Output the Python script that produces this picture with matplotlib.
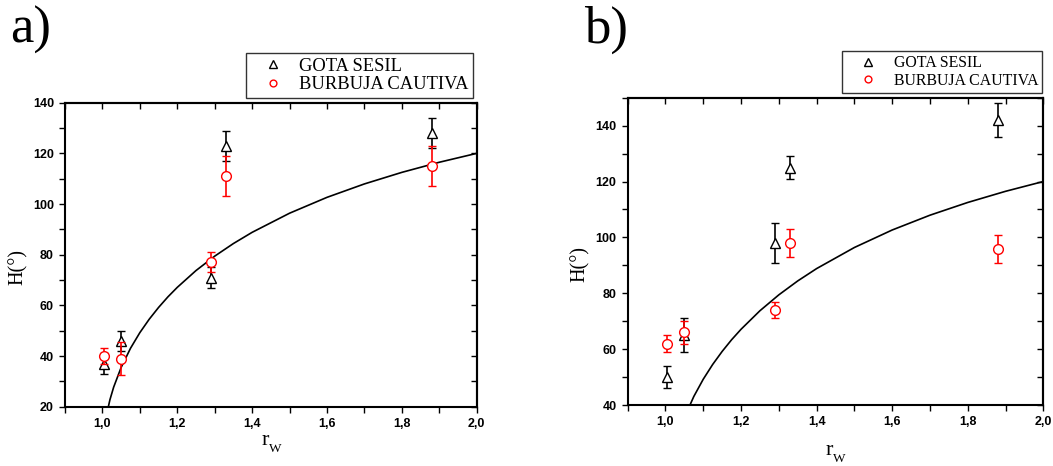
import matplotlib
matplotlib.use("Agg")
import matplotlib.pyplot as plt
from matplotlib.ticker import MultipleLocator, FuncFormatter

# ---- data ----
r_w = [1.003, 1.05, 1.29, 1.33, 1.88]

a_gota = [37, 46, 71, 123, 128]
a_gota_err = [4, 4, 4, 6, 6]
a_burb = [40, 39, 77, 111, 115]
a_burb_err = [3, 6.5, 4, 8, 8]

b_gota = [50, 65, 98, 125, 142]
b_gota_err = [4, 6, 7, 4, 6]
b_burb = [62, 66, 74, 98, 96]
b_burb_err = [3, 4, 3, 5, 5]

# model curve
curve_r = [1.01, 1.02, 1.03, 1.05, 1.075, 1.1, 1.125, 1.15, 1.175, 1.2, 1.25,
           1.3, 1.35, 1.4, 1.5, 1.6, 1.7, 1.8, 1.9, 2.0]
curve_H = [16.14, 22.73, 27.72, 35.50, 43.06, 49.24, 54.53, 59.18, 63.36, 67.11,
           73.74, 79.43, 84.41, 88.83, 96.38, 102.64, 107.94, 112.50, 116.49, 120.0]

labels = ["GOTA SESIL", "BURBUJA CAUTIVA"]

W, H = 1053, 466
fig = plt.figure(figsize=(W / 100, H / 100), dpi=100)

serif = 'Liberation Serif'
sans = 'Liberation Sans'


def px(x0, y0, x1, y1):
    return [x0 / W, 1 - y1 / H, (x1 - x0) / W, (y1 - y0) / H]


def make_panel(rect, gota, gota_err, burb, burb_err, ylim, yticks,
               leg_anchor, leg_fs, hlen, htp):
    ax = fig.add_axes(rect)
    ax.plot(curve_r, curve_H, color='black', lw=1.2, zorder=2)
    ax.errorbar(r_w, gota, yerr=gota_err, fmt='^', color='black', ms=7.5,
                mfc='white', mec='black', mew=1.0, ecolor='black', elinewidth=1.2,
                capsize=3, capthick=1.2, label=labels[0], zorder=3)
    ax.errorbar(r_w, burb, yerr=burb_err, fmt='o', color='red', ms=7,
                mfc='white', mec='red', mew=1.0, ecolor='red', elinewidth=1.2,
                capsize=3, capthick=1.2, label=labels[1], zorder=4)
    ax.set_xlim(0.9, 2.0)
    ax.set_ylim(*ylim)
    ax.set_xticks([1.0, 1.2, 1.4, 1.6, 1.8, 2.0])
    ax.xaxis.set_minor_locator(MultipleLocator(0.1))
    ax.set_yticks(yticks)
    ax.yaxis.set_minor_locator(MultipleLocator(10))
    ax.xaxis.set_major_formatter(FuncFormatter(lambda v, p: f"{v:.1f}".replace('.', ',')))
    ax.yaxis.set_major_formatter(FuncFormatter(lambda v, p: f"{v:.0f}"))
    ax.tick_params(which='both', direction='out', length=4, width=1.0,
                   top=False, right=False, pad=4)
    for lab in ax.get_xticklabels() + ax.get_yticklabels():
        lab.set_fontfamily(sans)
        lab.set_fontweight('bold')
        lab.set_fontsize(9)
    for s in ax.spines.values():
        s.set_linewidth(1.5)
    # mirrored inward ticks on top and right
    sx = ax.secondary_xaxis('top')
    sx.set_xticks([1.0, 1.2, 1.4, 1.6, 1.8, 2.0])
    sx.xaxis.set_minor_locator(MultipleLocator(0.1))
    sx.tick_params(which='both', direction='in', length=4, width=1.0, labeltop=False)
    sx.spines['top'].set_linewidth(1.5)
    sy = ax.secondary_yaxis('right')
    sy.set_yticks(yticks)
    sy.yaxis.set_minor_locator(MultipleLocator(10))
    sy.tick_params(which='both', direction='in', length=4, width=1.0, labelright=False)
    sy.spines['right'].set_linewidth(1.5)

    h, l = ax.get_legend_handles_labels()
    h = [hh[0] for hh in h]
    leg = ax.legend(h, l, loc='lower right', bbox_to_anchor=leg_anchor,
                    bbox_transform=fig.transFigure, borderaxespad=0,
                    frameon=True, fancybox=False, edgecolor='black',
                    prop={'family': serif, 'size': leg_fs}, markerscale=0.7,
                    handlelength=hlen, handletextpad=htp, borderpad=0.25,
                    labelspacing=0.1)
    leg.get_frame().set_linewidth(1.0)
    return ax


make_panel(px(65, 102.7, 476.7, 406.7), a_gota, a_gota_err, a_burb, a_burb_err,
           (20, 140), [20, 40, 60, 80, 100, 120, 140],
           (472.7 / W, 1 - 98 / H), 13.3, 2.4, 0.2)
make_panel(px(627.7, 97.7, 1043.3, 405), b_gota, b_gota_err, b_burb, b_burb_err,
           (40, 150), [40, 60, 80, 100, 120, 140],
           (1042.3 / W, 1 - 92.7 / H), 11.4, 2.77, 0.25)

# axis labels
for x, y in [(18, 267), (580, 264)]:
    fig.text(x / W, 1 - y / H, "H(°)", rotation=90, ha='center', va='center',
             family=serif, fontsize=14.5)
for rx, rb, wx, wb in [(262, 445, 268.5, 452.5), (825.5, 455, 832.5, 461.5)]:
    fig.text(rx / W, 1 - rb / H, "r", family=serif, fontsize=16,
             ha='left', va='baseline')
    fig.text(wx / W, 1 - wb / H, "W", family=serif, fontsize=9.5,
             ha='left', va='baseline')

# panel letters
fig.text(10 / W, 1 - 43 / H, "a)", family=serif, fontsize=38, ha='left', va='baseline')
fig.text(584 / W, 1 - 43 / H, "b)", family=serif, fontsize=38, ha='left', va='baseline')

fig.savefig("out.png", dpi=100)
